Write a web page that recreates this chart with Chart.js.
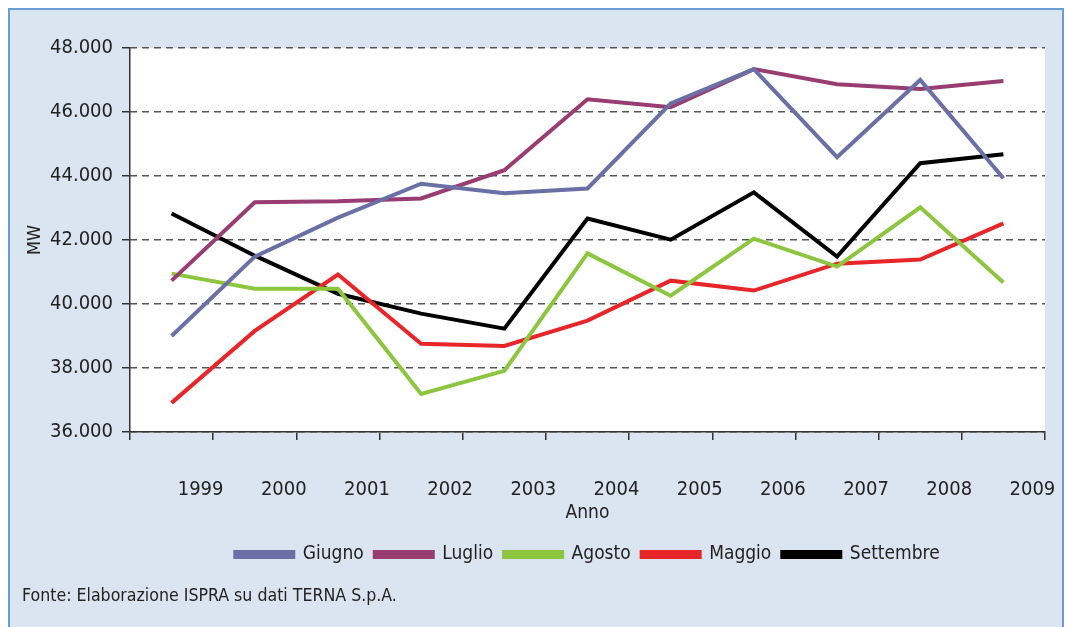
<!DOCTYPE html>
<html>
<head>
  <meta charset="UTF-8">
  <title>Potenza massima richiesta - MW</title>
  <script src="https://cdn.jsdelivr.net/npm/chart.js"></script>
  <style type="text/css">
    body { margin: 0; background: #fff; overflow: hidden; }
    #cornice {
      position: absolute; left: 8px; top: 8px;
      width: 1052px; height: 640px;
      background: #dbe5f1; border: 2px solid #6c9dd2;
    }
    #chart-container { position: absolute; left: 0; top: 0; width: 1066px; height: 627px; }
    #fonte {
      position: absolute; left: 22px; top: 585px;
      font: 17.6px "DejaVu Sans Condensed", "Liberation Sans", sans-serif; color: #222;
    }
  </style>
</head>
<body>
  <div id="cornice"></div>
  <div id="chart-container">
    <canvas id="graphCanvas" width="1066" height="627"></canvas>
  </div>
  <div id="fonte">Fonte: Elaborazione ISPRA su dati TERNA S.p.A.</div>

  <script>
    // dati (MW)
    const anni = ['1999', '2000', '2001', '2002', '2003', '2004', '2005', '2006', '2007', '2008', '2009'];
    const giugno = [39000, 41480, 42700, 43760, 43460, 43610, 46270, 47340, 44590, 47000, 43930];
    const luglio = [40730, 43180, 43210, 43300, 44180, 46400, 46150, 47340, 46870, 46720, 46970];
    const agosto = [40950, 40480, 40480, 37190, 37910, 41580, 40260, 42040, 41170, 43020, 40670];
    const maggio = [36910, 39160, 40920, 38760, 38690, 39480, 40730, 40420, 41260, 41390, 42520];
    const settembre = [42830, 41510, 40320, 39700, 39230, 42670, 42010, 43490, 41480, 44400, 44680];

    const font = '"DejaVu Sans Condensed", "Liberation Sans", sans-serif';

    function migliaia(v) {
      return Math.round(v / 1000) + '.000';
    }

    const sfondoArea = {
      id: 'sfondoArea',
      beforeDraw(chart) {
        const a = chart.chartArea;
        const ctx = chart.ctx;
        ctx.save();
        ctx.fillStyle = '#ffffff';
        ctx.fillRect(a.left, a.top, a.right - a.left, a.bottom - a.top);
        ctx.restore();
      }
    };

    function serie(label, data, colore) {
      return {
        label: label,
        data: data,
        borderColor: colore,
        backgroundColor: colore,
        borderWidth: 4,
        pointRadius: 0,
        tension: 0
      };
    }

    new Chart(document.getElementById('graphCanvas'), {
      type: 'line',
      data: {
        labels: anni,
        datasets: [
          serie('Giugno', giugno, '#6a6fa6'),
          serie('Luglio', luglio, '#983c72'),
          serie('Agosto', agosto, '#8cc63e'),
          serie('Maggio', maggio, '#e8262a'),
          serie('Settembre', settembre, '#000000')
        ]
      },
      options: {
        responsive: false,
        animation: false,
        layout: { padding: { left: 0, right: 21, top: 48, bottom: 53 } },
        plugins: {
          tooltip: { enabled: false },
          legend: {
            position: 'bottom',
            fullSize: false,
            labels: {
              boxWidth: 58,
              boxHeight: 5,
              padding: 11,
              color: '#222',
              font: { family: font, size: 19 }
            }
          }
        },
        scales: {
          x: {
            offset: true,
            afterFit(scale) { scale.height = 102; },
            grid: {
              drawOnChartArea: true,
              drawTicks: true,
              tickLength: 8,
              offset: true,
              lineWidth: 1.5,
              // solo la prima linea (asse verticale sinistro) visibile
              color: (c) => c.index === 0 ? '#333' : 'rgba(0,0,0,0)',
              tickColor: '#333'
            },
            border: { display: true, color: '#333', width: 1.5 },
            ticks: { labelOffset: 29, padding: 38, maxRotation: 0, minRotation: 0, color: '#222', font: { family: font, size: 20 } },
            title: { display: true, text: 'Anno', color: '#222', padding: { top: 2, bottom: 10 }, font: { family: font, size: 19 } }
          },
          y: {
            min: 36000,
            max: 48000,
            afterFit(scale) { scale.width = 130; },
            grid: { color: '#555', lineWidth: 1.5, tickLength: 8, tickColor: '#333' },
            border: { display: false, dash: [7, 5] },
            ticks: { stepSize: 2000, padding: 9, color: '#222', font: { family: font, size: 20 }, callback: migliaia },
            title: { display: true, text: 'MW', color: '#222', padding: { top: 25, bottom: 0 }, font: { family: font, size: 18 } }
          }
        }
      },
      plugins: [sfondoArea]
    });
  </script>
</body>
</html>
